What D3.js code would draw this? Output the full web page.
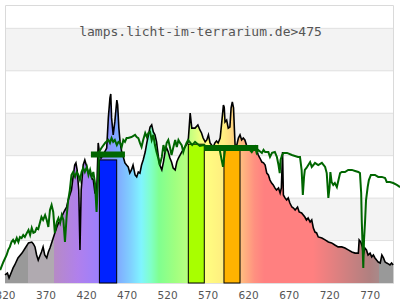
<!DOCTYPE html>
<html>
<head>
<meta charset="utf-8">
<script src="https://cdn.jsdelivr.net/npm/d3@7"></script>
<style>
  body { margin: 0; background: #fff; }
  svg { display: block; }
</style>
</head>
<body>
<svg id="chart"></svg>
<script>
// ---- data (wavelength in nm, relative intensity) ----
const chartTitle = 'lamps.licht-im-terrarium.de>475';
const xTicks = [320, 370, 420, 470, 520, 570, 620, 670, 720, 770];
const yGrid = [20, 40, 60, 80, 100, 120];
const yBands = [[20, 40], [60, 80], [100, 120]];

// lamp spectrum (black line, coloured fill)
const lampSpectrum = [
  [320,3.8],[323,4.7],[325,2.4],[328,5.2],[330,7.1],[332,8.5],[336,11.8],[341,14.1],[345,16.5],[349,18.9],
  [353,19.3],[355,18.4],[357,17],[359,13.2],[361,10.8],[363,12.7],[365,14.6],[367,17],[369,13.2],[371.5,11.8],
  [373.5,14.6],[375.5,16.5],[377.5,18.9],[379.5,21.2],[381.5,23.6],[384,26.4],[386,28.3],[388,29.2],[390,31.1],
  [392,33],[394,34.4],[396,35.8],[398,39.1],[400,41.5],[402,43.8],[404,50],[406,55.6],[407.5,56.6],[409,53.3],
  [411,43.8],[412.5,15.6],[414,43.8],[416.5,55.6],[418.5,58],[421,54.7],[423,51.8],[425,52.3],[427,49.5],
  [429,48.5],[431,42.4],[433,41.5],[435,66],[436.5,61.7],[438.5,58.9],[441,60.3],[445.5,63.6],[447.5,77.8],
  [449.5,87.2],[450.5,89.1],[451.5,77.8],[453.5,69.8],[455.5,75.9],[458,86.2],[459,83.9],[460.5,73],[462,66.5],
  [464,61.7],[466,59.4],[468,56.6],[470,55.6],[472,54.7],[474,51.8],[476,53.3],[478,55.6],[480.5,50.9],
  [482.5,50],[484.5,52.3],[486.5,51.8],[488.5,55.6],[490.5,58],[493,61.7],[495,66],[497,69.8],[499,73.5],
  [501,74.5],[503,71.2],[505,69.8],[507,66.5],[509,60.3],[511,55.6],[513.5,53.3],[515.5,57],[517.5,61.7],
  [519.5,63.6],[521.5,61.7],[523.5,58.9],[525.5,57],[527.5,54.2],[530,53.3],[532,57],[534,58.9],[536,60.3],
  [538,61.7],[542,64.1],[546,66.5],[548.5,80.1],[550.5,73],[554.5,73],[558,74.5],[560.5,72.1],[562.5,70.7],
  [564.5,68.3],[567,66.5],[569,67.4],[571,69.8],[573,66],[575,65],[577,64.1],[579,66],[581,66.9],[583,66],
  [585.5,68.3],[587.5,75.9],[589.5,83.9],[590.5,82.9],[591.5,75.9],[593.5,76.8],[595.5,73],[597.5,73.5],
  [599,82.5],[600.5,85.3],[602,82.5],[603,73],[604,64.1],[606,65],[608,68.3],[610,69.8],[612,67.4],[614,68.3],
  [616,67.4],[618,65],[620,63.6],[622,62.7],[624.5,63.6],[626.5,62.7],[628.5,64.1],[630.5,62.7],[632.5,60.3],
  [634.5,58.9],[637,57],[639,56.6],[641,55.6],[643,51.8],[645,50.9],[647,48.5],[649,47.1],[651,46.2],[653,44.8],
  [655,43.8],[657.5,44.8],[659.5,42.4],[661,44.8],[662.5,61.7],[663.5,41.5],[665.5,40.1],[667.5,39.1],
  [669.5,40.1],[671.5,37.7],[674,35.8],[676,35.3],[678,34.4],[681,35.8],[683,33.5],[686,33],[690,31.1],
  [692,29.7],[694,30.6],[696.5,28.7],[698.5,29.7],[700.5,25.9],[702.5,24],[704.5,23.6],[706.5,21.7],[711,21.2],
  [715,20.3],[719,19.3],[723,18.9],[727,17.9],[731,17],[735.5,17],[739.5,16.5],[743.5,15.6],[748,14.6],
  [752,14.1],[756,14.1],[757,20.3],[759,19.3],[761,17],[762,13.2],[764,16.5],[766,15.6],[768,13.2],[770.5,14.1],
  [772.5,12.3],[774.5,13.2],[776.5,11.8],[778.5,10.8],[780.5,9.9],[783,9.4],[785,13.2],[787,11.8],[789,9.9],
  [791,9.4],[793,9],[795,8.5],[797,9.4],[799,8.5]
];

// sunlight reference (dark green line)
const sunSpectrum = [
  [314,6.1],[318,9.9],[322,13.2],[324,15.6],[326,17],[328,19.3],[330,20.3],[332,18.9],[334.5,21.2],[336.5,19.3],
  [338.5,21.7],[340.5,21.2],[342.5,22.6],[344.5,21.7],[347,23.6],[349,25],[351,22.6],[353,25.9],[355,23.6],
  [357,24],[359,25.9],[361,25.4],[363,28.3],[365,31.1],[367,29.7],[369.5,32],[371.5,29.7],[373.5,26.4],
  [375.5,34.4],[377.5,36.8],[379.5,33.5],[381.5,23.6],[384,28.7],[386,30.6],[388,28.3],[390,32],[392,29.7],
  [394,19.3],[396,31.1],[398,39.1],[400,43.8],[402,50.9],[404,52.3],[406.5,50],[408.5,52.3],[410.5,50.9],
  [412.5,48.5],[414.5,52.3],[416.5,54.2],[418.5,52.3],[421,54.7],[423,50.9],[425,53.3],[427,50],[429,52.3],
  [431,47.1],[433,33.5],[435,50.4],[436,61.7],[439,63.6],[443.5,66],[447.5,67.4],[449.5,66],[451.5,68.3],
  [453.5,66.5],[455.5,67.4],[458,65],[460,66.5],[462,66],[464,64.1],[466,67.4],[468,66.5],[470,68.3],
  [472,68.3],[476,68.8],[480.5,69.8],[482.5,68.8],[484.5,68.3],[486.5,66],[488.5,64.1],[490.5,67.4],
  [493,70.7],[495,68.8],[497,70.7],[499,71.2],[501,67.4],[503,69.8],[505,65],[507,61.7],[509,58.9],[511,55.6],
  [513.5,59.4],[515.5,65],[517.5,61.7],[519.5,66],[521.5,67.4],[523.5,64.1],[525.5,60.3],[527.5,63.6],
  [530,67.4],[532,64.1],[534,67.4],[536,66],[538,65],[540,61.7],[542,64.1],[544,66],[546,67.4],[551,65],
  [554.5,66.5],[560.5,64.6],[565.5,65],[573,63.6],[579,62.7],[585,62.7],[589,54.7],[591.5,62.7],[604,63.1],
  [612,63.6],[620,63.6],[624.5,61.7],[628.5,64.1],[630.5,61.3],[632.5,62.7],[637,61.3],[639,62.7],[641,61.7],
  [645,61.7],[647,59.4],[649.5,61.3],[653,61.7],[655.5,59.4],[657.5,55.6],[659,51.8],[660,58],[662,60.3],
  [663.5,61.3],[668,61.3],[674,60.3],[681.5,59.4],[684,59.4],[686,53.3],[687.5,41.5],[689,50],[690,53.3],
  [692,54.2],[696.5,57],[698.5,54.7],[700.5,55.6],[702.5,56.6],[706.5,55.6],[711,56.6],[715,54.7],[717,51.8],
  [719,40.1],[720.5,45.2],[721.5,52.3],[723,47.6],[725,46.2],[727,47.1],[729.5,45.2],[731.5,48.5],[733.5,51.8],
  [735.5,52.3],[739.5,52.3],[743.5,53.3],[748,53.3],[752,52.8],[756,52.3],[758,51.8],[759.5,42.4],[760.2,29.7],
  [761.4,15.6],[762.1,7.1],[763,20.3],[764.2,28.3],[765.5,39.1],[767.5,45.2],[769,48.5],[771.5,50.9],
  [776.5,50.9],[780.5,50],[785,50],[789,49.5],[791,47.6],[795,47.6],[799,47.1],[803.5,46.2],[807.5,45.2]
];

// highlighted bands: [from nm, to nm, height, colour]
const bandFrom = [436.5, 546.2, 590.2];
const bandTo = [457.8, 565.9, 610];
const bandValue = [58, 65.4, 64.1];
const bandColor = ['#0022ff', '#a8ff00', '#ffb300'];

// sunlight averages over the bands (thick green strokes)
const sunAvgFrom = [426, 565.6];
const sunAvgTo = [468, 632.5];
const sunAvgValue = [60.6, 63.6];

// colour of the fill under the lamp curve along the wavelength axis
const fillStops = [
  [320,'#999999'],[348,'#999999'],[348,'#b0aab0'],[381,'#b0aab0'],[381,'#b68ac6'],[410,'#b080ec'],
  [438,'#9a80ff'],[458,'#80a8ff'],[475,'#80d0ff'],[488,'#80f4ff'],[500,'#80ffc8'],[510,'#80ff90'],
  [530,'#a0ff80'],[545,'#b8ff80'],[566,'#ffff80'],[590,'#ffee80'],[610,'#ffc080'],[628,'#ff9080'],
  [640,'#ff8080'],[700,'#ff8080'],[730,'#dd8080'],[770,'#b08080'],[782,'#a88a8a'],[782,'#999999'],[800,'#999999']
];

class SpectrumChart {

  constructor(_config) {
    this.config = {
      parentElement: _config.parentElement,
      containerWidth: _config.containerWidth || 400,
      containerHeight: _config.containerHeight || 300,
      margin: { top: 5, bottom: 17, right: 6, left: 5 }
    };
    this.initVis();
  }

  initVis() {
    let vis = this;

    vis.width = vis.config.containerWidth - vis.config.margin.left - vis.config.margin.right;
    vis.height = vis.config.containerHeight - vis.config.margin.top - vis.config.margin.bottom;

    vis.xScale = d3.scaleLinear().domain([320, 800]).range([0, vis.width]);
    vis.yScale = d3.scaleLinear().domain([0, 131]).range([vis.height, 0]);

    vis.svg = d3.select(vis.config.parentElement)
        .attr('width', vis.config.containerWidth)
        .attr('height', vis.config.containerHeight);

    vis.chart = vis.svg.append('g')
        .attr('transform', `translate(${vis.config.margin.left},${vis.config.margin.top})`);

    // gradient for the lamp fill
    let grad = vis.svg.append('defs').append('linearGradient')
        .attr('id', 'spec')
        .attr('gradientUnits', 'userSpaceOnUse')
        .attr('x1', vis.xScale(320)).attr('x2', vis.xScale(800))
        .attr('y1', 0).attr('y2', 0);
    grad.selectAll('stop')
      .data(fillStops)
      .join('stop')
        .attr('offset', d => (d[0] - 320) / 480)
        .attr('stop-color', d => d[1]);

    // alternating grey bands + grid lines
    vis.chart.selectAll('.band')
      .data(yBands)
      .join('rect')
        .attr('x', 0)
        .attr('width', vis.width)
        .attr('y', d => vis.yScale(d[1]))
        .attr('height', d => vis.yScale(d[0]) - vis.yScale(d[1]))
        .attr('fill', '#f3f3f3');

    vis.chart.selectAll('.grid')
      .data(yGrid)
      .join('line')
        .attr('x1', 0).attr('x2', vis.width)
        .attr('y1', d => vis.yScale(d)).attr('y2', d => vis.yScale(d))
        .attr('stroke', '#e0e0e0');

    // frame
    vis.chart.append('path')
        .attr('d', `M0.5,${vis.height}V0.5H${vis.width - 0.5}V${vis.height}`)
        .attr('fill', 'none')
        .attr('stroke', '#dadada');
    vis.chart.append('line')
        .attr('x1', 0).attr('x2', vis.width)
        .attr('y1', vis.height + 0.5).attr('y2', vis.height + 0.5)
        .attr('stroke', '#e0e0e0');

    // lamp fill
    let area = d3.area()
        .x(d => vis.xScale(d[0]))
        .y0(vis.yScale(0))
        .y1(d => vis.yScale(d[1]));
    vis.chart.append('path')
        .datum(lampSpectrum)
        .attr('d', area)
        .attr('fill', 'url(#spec)');

    // band bars
    vis.chart.selectAll('.bar')
      .data(bandFrom)
      .join('rect')
        .attr('x', (d, i) => vis.xScale(bandFrom[i]))
        .attr('width', (d, i) => vis.xScale(bandTo[i]) - vis.xScale(bandFrom[i]))
        .attr('y', (d, i) => vis.yScale(bandValue[i]))
        .attr('height', (d, i) => vis.yScale(0) - vis.yScale(bandValue[i]))
        .attr('fill', (d, i) => bandColor[i])
        .attr('stroke', '#000')
        .attr('stroke-width', 1);

    let line = d3.line()
        .x(d => vis.xScale(d[0]))
        .y(d => vis.yScale(d[1]));

    // lamp line
    vis.chart.append('path')
        .datum(lampSpectrum)
        .attr('d', line)
        .attr('fill', 'none')
        .attr('stroke', '#000')
        .attr('stroke-width', 1.6);

    // sunlight line
    vis.chart.append('path')
        .datum(sunSpectrum)
        .attr('d', line)
        .attr('fill', 'none')
        .attr('stroke', '#006600')
        .attr('stroke-width', 2);

    // sunlight band averages
    vis.chart.selectAll('.avg')
      .data(sunAvgFrom)
      .join('line')
        .attr('x1', (d, i) => vis.xScale(sunAvgFrom[i]))
        .attr('x2', (d, i) => vis.xScale(sunAvgTo[i]))
        .attr('y1', (d, i) => vis.yScale(sunAvgValue[i]))
        .attr('y2', (d, i) => vis.yScale(sunAvgValue[i]))
        .attr('stroke', '#006600')
        .attr('stroke-width', 6);

    // x axis, labels only
    vis.xAxis = d3.axisBottom(vis.xScale)
        .tickValues(xTicks)
        .tickSize(0)
        .tickFormat(d3.format('d'));
    vis.xAxisG = vis.chart.append('g')
        .attr('transform', `translate(0,${vis.height})`)
        .call(vis.xAxis);
    vis.xAxisG.select('.domain').remove();
    vis.xAxisG.selectAll('text')
        .attr('y', 16)
        .attr('dy', 0)
        .attr('fill', '#555')
        .style('font-family', 'DejaVu Sans')
        .style('font-size', '10.5px');

    // title
    vis.svg.append('text')
        .attr('x', 200.5)
        .attr('y', 36)
        .attr('text-anchor', 'middle')
        .attr('fill', '#555')
        .style('font-family', 'DejaVu Sans Mono')
        .style('font-size', '13px')
        .text(chartTitle);
  }
}

new SpectrumChart({ parentElement: '#chart', containerWidth: 400, containerHeight: 300 });
</script>
</body>
</html>
